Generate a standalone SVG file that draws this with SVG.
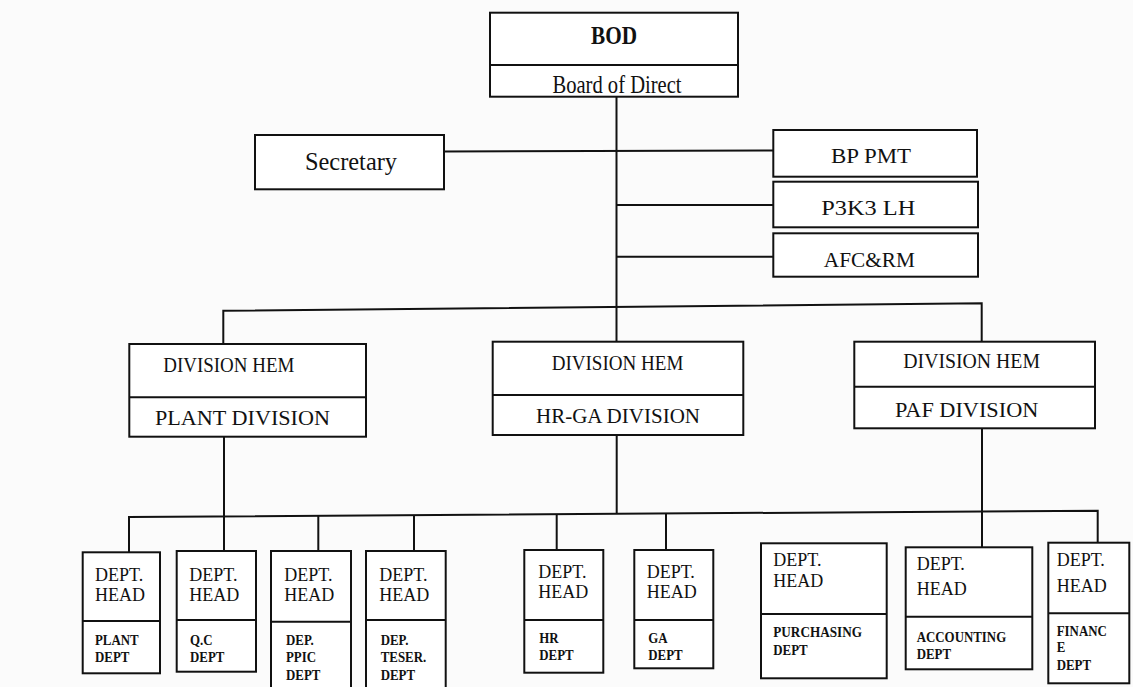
<svg xmlns="http://www.w3.org/2000/svg" width="1133" height="687" viewBox="0 0 1133 687">
<style>
  .box{fill:#fff;stroke:#111;stroke-width:2}
  .div{stroke:#111;stroke-width:2}
  .ln{fill:none;stroke:#111;stroke-width:2}
  text{font-family:"Liberation Serif","Times New Roman",serif;fill:#111}
  .top{font-size:26px}
  .topb{font-size:26px;font-weight:bold}
  .mid{font-size:20px}
  .bx{font-size:22px}
  .dh{font-size:18px}
  .dn{font-size:15px;font-weight:bold}
</style>
<rect x="0" y="0" width="1133" height="687" fill="#fbfbfb"/>

<g id="connectors">
  <line class="ln" x1="616.5" y1="96.7" x2="616.5" y2="342"/>
  <line class="ln" x1="444" y1="151.5" x2="773.3" y2="150.5"/>
  <line class="ln" x1="616.5" y1="205" x2="773.3" y2="205"/>
  <line class="ln" x1="616.5" y1="256.7" x2="773.3" y2="256.7"/>
  <polyline class="ln" points="223.3,344 223.3,310.7 981.7,303.3 981.7,341.7"/>
  <line class="ln" x1="224" y1="436.7" x2="224" y2="551"/>
  <line class="ln" x1="616.7" y1="435" x2="616.7" y2="513.8"/>
  <line class="ln" x1="982" y1="428.3" x2="982" y2="547.3"/>
  <polyline class="ln" points="129,552.3 129,517 1097.7,510.7 1097.7,542.7"/>
  <line class="ln" x1="318.3" y1="515.8" x2="318.3" y2="551"/>
  <line class="ln" x1="414" y1="515.1" x2="414" y2="551"/>
  <line class="ln" x1="556.7" y1="514.2" x2="556.7" y2="550"/>
  <line class="ln" x1="666" y1="513.5" x2="666" y2="550"/>
</g>

<g id="bod">
  <rect class="box" x="490" y="12.7" width="248" height="84"/>
  <line class="div" x1="490" y1="65" x2="738" y2="65"/>
  <text class="topb" x="614" y="43.5" text-anchor="middle" textLength="46" lengthAdjust="spacingAndGlyphs">BOD</text>
  <text class="top" x="617" y="93" text-anchor="middle" textLength="129" lengthAdjust="spacingAndGlyphs">Board of Direct</text>
</g>

<g id="secretary">
  <rect class="box" x="255" y="135" width="189" height="54.3"/>
  <text class="top" x="351" y="170" font-size="28" text-anchor="middle" textLength="92" lengthAdjust="spacingAndGlyphs">Secretary</text>
</g>

<g id="bp-pmt">
  <rect class="box" x="773.3" y="130" width="203.7" height="46.7"/>
  <text class="bx" x="871" y="163.3" text-anchor="middle" textLength="80" lengthAdjust="spacingAndGlyphs">BP PMT</text>
</g>

<g id="p3k3-lh">
  <rect class="box" x="773.3" y="181.7" width="204.7" height="45.6"/>
  <text class="bx" x="868.3" y="215" text-anchor="middle" textLength="94" lengthAdjust="spacingAndGlyphs">P3K3 LH</text>
</g>

<g id="afc-rm">
  <rect class="box" x="773.3" y="233.3" width="204.7" height="43.4"/>
  <text class="bx" x="869.3" y="266.7" text-anchor="middle" textLength="91" lengthAdjust="spacingAndGlyphs">AFC&amp;RM</text>
</g>

<g id="plant-division">
  <rect class="box" x="129.3" y="344" width="236.7" height="92.7"/>
  <line class="div" x1="129.3" y1="397.3" x2="366" y2="397.3"/>
  <text class="mid" x="163.3" y="371.7" textLength="131" lengthAdjust="spacingAndGlyphs">DIVISION HEM</text>
  <text class="mid" x="155" y="425" font-size="21" textLength="175" lengthAdjust="spacingAndGlyphs">PLANT DIVISION</text>
</g>

<g id="hrga-division">
  <rect class="box" x="492.7" y="341.7" width="250.6" height="93.3"/>
  <line class="div" x1="492.7" y1="395" x2="743.3" y2="395"/>
  <text class="mid" x="551.7" y="370" textLength="131.7" lengthAdjust="spacingAndGlyphs">DIVISION HEM</text>
  <text class="mid" x="536" y="423.3" font-size="21" textLength="164" lengthAdjust="spacingAndGlyphs">HR-GA DIVISION</text>
</g>

<g id="paf-division">
  <rect class="box" x="854.3" y="341.7" width="240.7" height="86.6"/>
  <line class="div" x1="854.3" y1="386.7" x2="1095" y2="386.7"/>
  <text class="mid" x="903.3" y="368.3" textLength="136.7" lengthAdjust="spacingAndGlyphs">DIVISION HEM</text>
  <text class="mid" x="895" y="416.7" font-size="21" textLength="143.3" lengthAdjust="spacingAndGlyphs">PAF DIVISION</text>
</g>

<g id="plant-dept">
  <rect class="box" x="82.7" y="552.3" width="77.3" height="121"/>
  <line class="div" x1="82.7" y1="621" x2="160" y2="621"/>
  <text class="dh" x="95" y="580.5">DEPT.</text>
  <text class="dh" x="95" y="600.5">HEAD</text>
  <text class="dn" transform="translate(95 645) scale(0.86 1)">PLANT</text>
  <text class="dn" transform="translate(95 661.7) scale(0.86 1)">DEPT</text>
</g>

<g id="qc-dept">
  <rect class="box" x="176.7" y="551" width="79.3" height="120.7"/>
  <line class="div" x1="176.7" y1="620" x2="256" y2="620"/>
  <text class="dh" x="189.3" y="580.5">DEPT.</text>
  <text class="dh" x="189.3" y="600.5">HEAD</text>
  <text class="dn" transform="translate(190 645) scale(0.86 1)">Q.C</text>
  <text class="dn" transform="translate(190 661.7) scale(0.86 1)">DEPT</text>
</g>

<g id="ppic-dept">
  <rect class="box" x="271" y="551" width="80" height="145"/>
  <line class="div" x1="271" y1="621.7" x2="351" y2="621.7"/>
  <text class="dh" x="284.3" y="580.5">DEPT.</text>
  <text class="dh" x="284.3" y="600.5">HEAD</text>
  <text class="dn" transform="translate(286 645) scale(0.86 1)">DEP.</text>
  <text class="dn" transform="translate(286 661.7) scale(0.86 1)">PPIC</text>
  <text class="dn" transform="translate(286 680) scale(0.86 1)">DEPT</text>
</g>

<g id="teser-dept">
  <rect class="box" x="366" y="551" width="79.7" height="145"/>
  <line class="div" x1="366" y1="620" x2="445.7" y2="620"/>
  <text class="dh" x="379.3" y="580.5">DEPT.</text>
  <text class="dh" x="379.3" y="600.5">HEAD</text>
  <text class="dn" transform="translate(380.7 645) scale(0.86 1)">DEP.</text>
  <text class="dn" transform="translate(380.7 661.7) scale(0.86 1)">TESER.</text>
  <text class="dn" transform="translate(380.7 680) scale(0.86 1)">DEPT</text>
</g>

<g id="hr-dept">
  <rect class="box" x="524.3" y="550" width="79" height="122.7"/>
  <line class="div" x1="524.3" y1="620" x2="603.3" y2="620"/>
  <text class="dh" x="538.3" y="578.3">DEPT.</text>
  <text class="dh" x="538.3" y="598.3">HEAD</text>
  <text class="dn" transform="translate(539.3 643.3) scale(0.86 1)">HR</text>
  <text class="dn" transform="translate(539.3 660) scale(0.86 1)">DEPT</text>
</g>

<g id="ga-dept">
  <rect class="box" x="634.3" y="550" width="79" height="118.3"/>
  <line class="div" x1="634.3" y1="620" x2="713.3" y2="620"/>
  <text class="dh" x="646.7" y="578.3">DEPT.</text>
  <text class="dh" x="646.7" y="598.3">HEAD</text>
  <text class="dn" transform="translate(648.3 643.3) scale(0.86 1)">GA</text>
  <text class="dn" transform="translate(648.3 660) scale(0.86 1)">DEPT</text>
</g>

<g id="purchasing-dept">
  <rect class="box" x="761" y="543.3" width="125.7" height="135"/>
  <line class="div" x1="761" y1="614" x2="886.7" y2="614"/>
  <text class="dh" x="773.3" y="566">DEPT.</text>
  <text class="dh" x="773.3" y="586.7">HEAD</text>
  <text class="dn" transform="translate(773.3 636.7) scale(0.88 1)">PURCHASING</text>
  <text class="dn" transform="translate(773.3 655) scale(0.86 1)">DEPT</text>
</g>

<g id="accounting-dept">
  <rect class="box" x="905.7" y="547.3" width="126.6" height="122"/>
  <line class="div" x1="905.7" y1="616.7" x2="1032.3" y2="616.7"/>
  <text class="dh" x="916.7" y="570">DEPT.</text>
  <text class="dh" x="916.7" y="595">HEAD</text>
  <text class="dn" transform="translate(916.7 641.7) scale(0.86 1)">ACCOUNTING</text>
  <text class="dn" transform="translate(916.7 659) scale(0.86 1)">DEPT</text>
</g>

<g id="finance-dept">
  <rect class="box" x="1048.3" y="542.7" width="81" height="140.6"/>
  <line class="div" x1="1048.3" y1="613.3" x2="1129.3" y2="613.3"/>
  <text class="dh" x="1056.7" y="566">DEPT.</text>
  <text class="dh" x="1056.7" y="591.7">HEAD</text>
  <text class="dn" transform="translate(1056.7 635.7) scale(0.86 1)">FINANC</text>
  <text class="dn" transform="translate(1056.7 651.7) scale(0.86 1)">E</text>
  <text class="dn" transform="translate(1056.7 670) scale(0.86 1)">DEPT</text>
</g>
</svg>
